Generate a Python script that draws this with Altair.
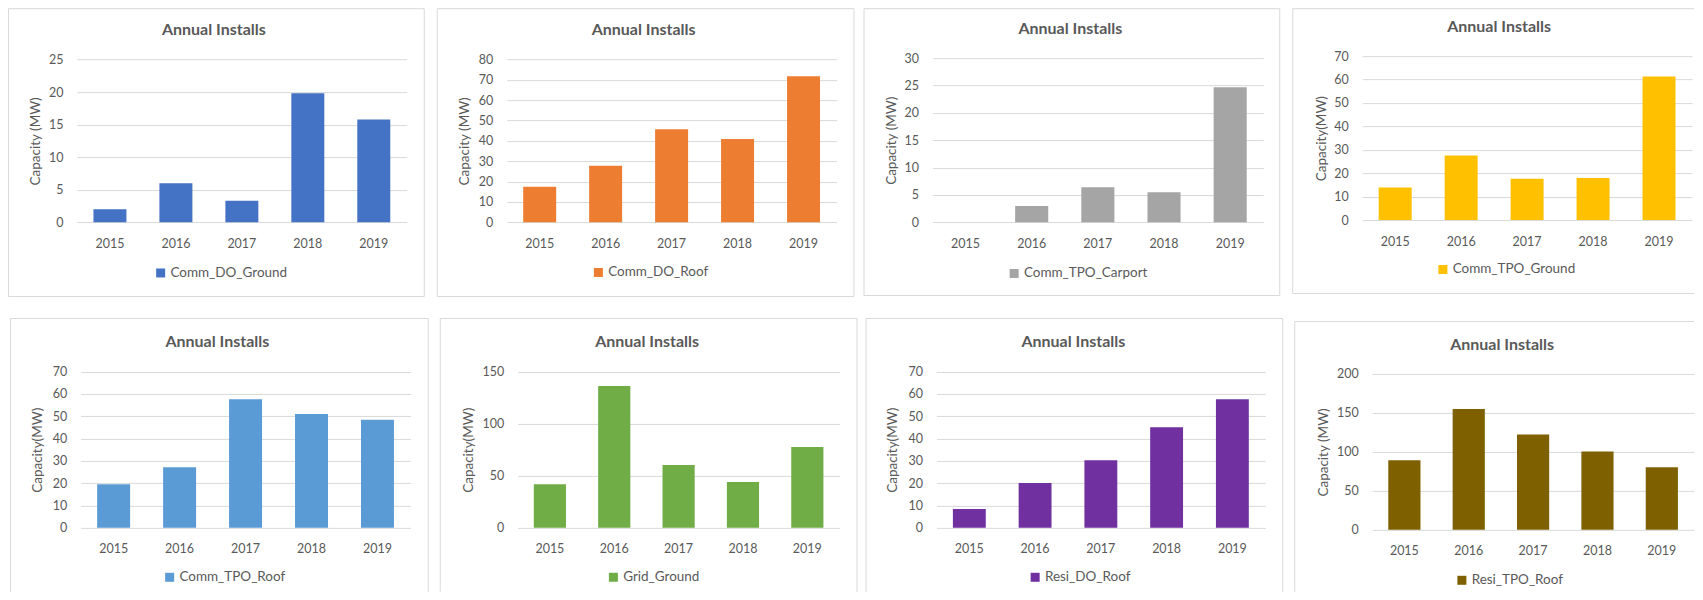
import altair as alt
import pandas as pd

# ---------------- data ----------------
years = ["2015", "2016", "2017", "2018", "2019"]
series_names = ["Comm_DO_Ground", "Comm_DO_Roof", "Comm_TPO_Carport", "Comm_TPO_Ground",
                "Comm_TPO_Roof", "Grid_Ground", "Resi_DO_Roof", "Resi_TPO_Roof"]
comm_do_ground = [2.0, 6.0, 3.3, 19.8, 15.8]
comm_do_roof = [17.5, 27.8, 45.7, 40.9, 71.8]
comm_tpo_carport = [0.0, 3.0, 6.4, 5.5, 24.7]
comm_tpo_ground = [13.9, 27.6, 17.6, 18.0, 61.3]
comm_tpo_roof = [19.6, 27.2, 57.6, 51.0, 48.4]
grid_ground = [41.9, 136.2, 60.4, 44.1, 77.7]
resi_do_roof = [8.5, 20.1, 30.3, 45.1, 57.6]
resi_tpo_roof = [89.3, 155.1, 122.2, 100.4, 80.3]
series_values = [comm_do_ground, comm_do_roof, comm_tpo_carport, comm_tpo_ground,
                 comm_tpo_roof, grid_ground, resi_do_roof, resi_tpo_roof]
y_max = [25, 80, 30, 70, 70, 150, 70, 200]
y_step = [5, 10, 5, 10, 10, 50, 10, 50]
y_titles = ["Capacity (MW)", "Capacity (MW)", "Capacity (MW)", "Capacity(MW)",
            "Capacity(MW)", "Capacity(MW)", "Capacity(MW)", "Capacity (MW)"]
chart_title = "Annual Installs"
colors = ["#4472C4", "#ED7D31", "#A5A5A5", "#FFC000",
          "#5B9BD5", "#70AD47", "#7030A0", "#7F6000"]

# ---------------- layout (pixels, local to each panel view) ----------------
TOP_H, BOT_H = 310, 274
layout = [
    # W, H, box(x0,x1,y0,y1), sides, plot(xl,xr,yb,yt), title(cx,base), ytitle cx, legend(sx,cy)
    dict(W=429, H=TOP_H, box=(0.5, 416.5, 0.5, 288.5), sides="LTRB", plot=(69, 399, 214.3, 51.3), title=(206, 27), yt=28, leg=(146, 265.5)),
    dict(W=427, H=TOP_H, box=(0.5, 417.5, 0.5, 288.5), sides="LTRB", plot=(70, 400, 214.3, 51.3), title=(207, 27), yt=28, leg=(155, 265)),
    dict(W=429, H=TOP_H, box=(0.5, 416.5, 0.5, 287.5), sides="LTRB", plot=(69, 400, 214.3, 50), title=(207, 26), yt=28, leg=(144, 266)),
    dict(W=402, H=TOP_H, box=(0.5, 402, 0.5, 285.5), sides="LTB", plot=(70, 400, 212, 48), title=(207, 24), yt=29, leg=(144, 262)),
    dict(W=432, H=BOT_H, box=(2.5, 420.5, 0.5, BOT_H), sides="LTR", plot=(72.7, 402.7, 210, 53.7), title=(209.5, 29), yt=30, leg=(155, 260)),
    dict(W=426, H=BOT_H, box=(0.5, 417.5, 0.5, BOT_H), sides="LTR", plot=(78, 400, 210, 53.7), title=(207.5, 29), yt=29, leg=(167, 260)),
    dict(W=429, H=BOT_H, box=(0.5, 417.5, 0.5, BOT_H), sides="LTR", plot=(71, 400, 210, 53.7), title=(208, 29), yt=27, leg=(163, 260)),
    dict(W=400, H=BOT_H, box=(0.5, 400, 3.5, BOT_H), sides="LT", plot=(78, 400, 212, 56), title=(208, 32), yt=29, leg=(161, 263)),
]

TEXT = "#595959"
GRID = "#d9d9d9"
FONT = "Lato"
LEG_SHIFT = 7.3


def edge_rules(box, sides):
    x0, x1, y0, y1 = box
    segs = {
        "L": (x0, x0, y0, y1),
        "R": (x1, x1, y0, y1),
        "T": (x0, x1, y0, y0),
        "B": (x0, x1, y1, y1),
    }
    out = []
    for s in sides:
        a, b, c, d = segs[s]
        out.append(
            alt.Chart(pd.DataFrame({"edge": [s]}))
            .mark_rule(color=GRID, strokeWidth=1)
            .encode(x=alt.value(a), x2=alt.value(b), y=alt.value(c), y2=alt.value(d))
        )
    return out


def panel(i):
    L = layout[i]
    xl, xr, yb, yt = L["plot"]
    df = pd.DataFrame({"year": years, "value": series_values[i], "series": series_names[i]})
    bars = alt.Chart(df).mark_bar().encode(
        x=alt.X(
            "year:N",
            sort=years,
            scale=alt.Scale(range=[xl, xr], paddingInner=0.5, paddingOuter=0.25),
            axis=alt.Axis(
                orient="bottom", offset=-(L["H"] - yb), domain=False, ticks=False, tickSize=0,
                grid=False, labelAngle=0, labelPadding=15, labelFont=FONT, labelFontSize=12.5,
                labelColor=TEXT, title=None,
            ),
        ),
        y=alt.Y(
            "value:Q",
            scale=alt.Scale(domain=[0, y_max[i]], range=[yb, yt], nice=False, zero=True),
            axis=alt.Axis(
                orient="left", offset=-xl, values=list(range(0, y_max[i] + 1, y_step[i])),
                domain=False, ticks=False, tickSize=0, grid=True, gridColor=GRID, gridWidth=1,
                labelPadding=14, labelFont=FONT, labelFontSize=12.5, labelColor=TEXT,
                title=y_titles[i], titleFont=FONT, titleFontSize=13.5, titleFontWeight="normal",
                titleColor=TEXT, titleX=L["yt"] - xl, titleBaseline="middle",
            ),
        ),
        color=alt.Color(
            "series:N",
            scale=alt.Scale(domain=[series_names[i]], range=[colors[i]]),
            legend=alt.Legend(
                orient="none", legendX=L["leg"][0], legendY=L["leg"][1] - LEG_SHIFT, title=None,
                symbolType="square", symbolSize=81, symbolStrokeWidth=0, labelFont=FONT,
                labelFontSize=13.5, labelColor=TEXT, labelOffset=3, padding=0,
            ),
        ),
    )
    cx, base = L["title"]
    title = alt.Chart(pd.DataFrame({"title": [chart_title]})).mark_text(
        font=FONT, fontSize=16, fontWeight="bold", color=TEXT, align="center",
        baseline="alphabetic",
    ).encode(text="title:N", x=alt.value(cx), y=alt.value(base))
    return alt.layer(bars, title, *edge_rules(L["box"], L["sides"])).properties(
        width=L["W"], height=L["H"],
    )


def row(idx):
    return alt.hconcat(*[panel(i) for i in idx], spacing=0).resolve_scale(
        x="independent", y="independent", color="independent"
    ).resolve_legend(color="independent")


chart = alt.vconcat(row([0, 1, 2, 3]), row([4, 5, 6, 7]), spacing=0).resolve_scale(
    x="independent", y="independent", color="independent"
).resolve_legend(color="independent").properties(padding=0).configure(
    font=FONT, background="white"
).configure_view(strokeWidth=0)

chart.save("out.html", embed_options={"renderer": "svg", "actions": False})
